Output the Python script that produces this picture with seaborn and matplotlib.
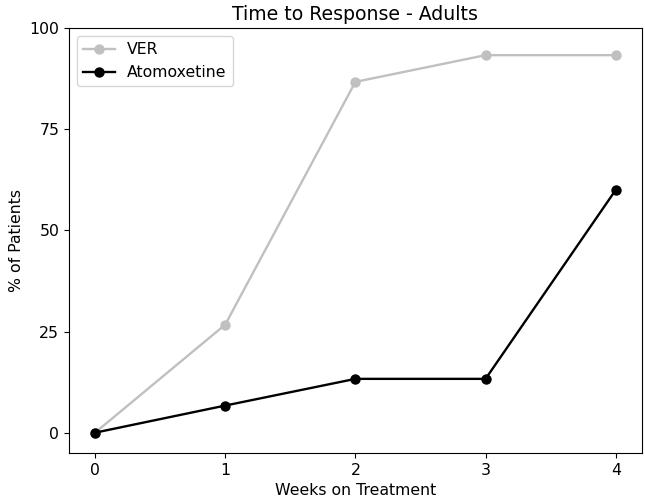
import pandas as pd
import matplotlib
matplotlib.use('Agg')
import matplotlib.pyplot as plt
import seaborn as sns

# Dados
weeks = [0, 1, 2, 3, 4]
ver_pct = [0, 26.7, 86.7, 93.3, 93.3]
atomox_pct = [0, 6.7, 13.3, 13.3, 60.0]

df = pd.DataFrame({
    'week': weeks * 2,
    'pct': ver_pct + atomox_pct,
    'group': ['VER'] * len(weeks) + ['Atomoxetine'] * len(weeks),
})

plt.rcParams['font.size'] = 11.3

fig = plt.figure(figsize=(6.45, 5.01), dpi=100)
ax = fig.add_axes([0.107, 0.096, 0.888, 0.848])

sns.lineplot(data=df, x='week', y='pct', hue='group',
             palette={'VER': '#c0c0c0', 'Atomoxetine': 'black'},
             marker='o', markersize=7.5, markeredgewidth=0, linewidth=1.7,
             ax=ax)

ax.set_xticks(weeks)
ax.set_yticks([0, 25, 50, 75, 100])
ax.set_xlim(-0.2, 4.2)
ax.set_ylim(-5, 100)
ax.set_title('Time to Response - Adults', fontsize=13.6)
ax.set_xlabel('Weeks on Treatment')
ax.set_ylabel('% of Patients')
ax.legend(loc='upper left', title=None)

fig.savefig('out.png', dpi=100)
